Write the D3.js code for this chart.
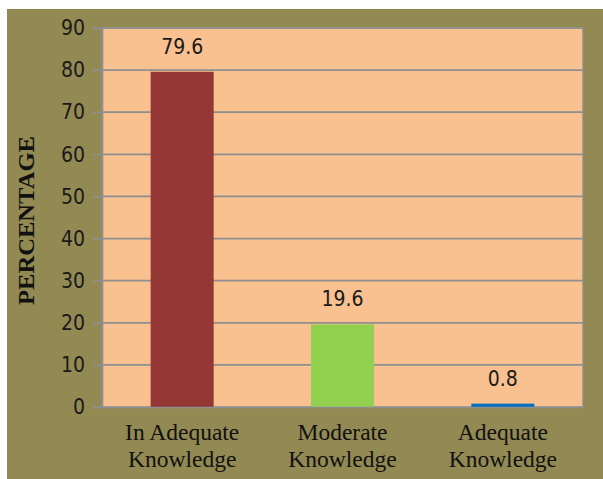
<!DOCTYPE html>
<html>
<head>
<meta charset="utf-8">
<script src="https://cdn.jsdelivr.net/npm/d3@7"></script>
<style>
  html, body { margin: 0; padding: 0; background: #ffffff; }
  svg { display: block; }
</style>
</head>
<body>
<div id="chart"></div>
<script>
const categories = [["In Adequate", "Knowledge"], ["Moderate", "Knowledge"], ["Adequate", "Knowledge"]];
const values = [79.6, 19.6, 0.8];
const valueLabels = ["79.6", "19.6", "0.8"];
const barColors = ["#953735", "#92d050", "#0070c0"];
const yTicks = [0, 10, 20, 30, 40, 50, 60, 70, 80, 90];
const yTitle = "PERCENTAGE";

const W = 603, H = 479;
const plot = { left: 102, right: 583, top: 28, bottom: 407 };
const sansFont = "'DejaVu Sans Condensed', 'DejaVu Sans', sans-serif";

const svg = d3.select("#chart").append("svg").attr("width", W).attr("height", H);

svg.append("rect").attr("x", 7).attr("y", 9).attr("width", W - 7).attr("height", H - 9).attr("fill", "#938953");

svg.append("rect").attr("x", plot.left).attr("y", plot.top)
  .attr("width", plot.right - plot.left).attr("height", plot.bottom - plot.top)
  .attr("fill", "#f9c090").attr("stroke", "#8f8f8f").attr("stroke-width", 1.5);

const y = d3.scaleLinear().domain([0, 90]).range([plot.bottom, plot.top]);
const x = d3.scaleBand().domain(d3.range(categories.length)).range([plot.left, plot.right])
  .paddingInner(0.607).paddingOuter(0.3035);

// gridlines
svg.append("g").selectAll("line").data(yTicks.filter(d => d > 0)).join("line")
  .attr("x1", plot.left).attr("x2", plot.right)
  .attr("y1", d => y(d)).attr("y2", d => y(d))
  .attr("stroke", "#8f8f8f").attr("stroke-width", 1.7);

// bars
svg.append("g").selectAll("rect").data(values).join("rect")
  .attr("x", (d, i) => x(i)).attr("width", x.bandwidth())
  .attr("y", d => y(d)).attr("height", d => y(0) - y(d))
  .attr("fill", (d, i) => barColors[i]);

// y axis
const yAxis = d3.axisLeft(y).tickValues(yTicks).tickSize(9).tickPadding(8);
const gy = svg.append("g").attr("transform", `translate(${plot.left},0)`).call(yAxis);
gy.select(".domain").attr("stroke", "#8f8f8f").attr("stroke-width", 1.7);
gy.selectAll(".tick line").attr("stroke", "#8f8f8f").attr("stroke-width", 1.7);
gy.selectAll(".tick text").attr("font-family", sansFont).attr("font-stretch", "condensed")
  .attr("font-size", 21).attr("fill", "#1a1a1a");

// x axis
const xAxis = d3.axisBottom(x).tickSize(0).tickFormat("");
const gx = svg.append("g").attr("transform", `translate(0,${plot.bottom})`).call(xAxis);
gx.select(".domain").attr("stroke", "#8f8f8f").attr("stroke-width", 1.7);
gx.selectAll(".tick").each(function(d) {
  const t = d3.select(this).append("text")
    .attr("text-anchor", "middle")
    .attr("font-family", "'Liberation Serif', 'Times New Roman', serif")
    .attr("font-size", 23.5).attr("fill", "#111111");
  categories[d].forEach((line, k) => {
    t.append("tspan").attr("x", 0).attr("y", 33 + k * 27).text(line);
  });
});

// value labels
svg.append("g").selectAll("text").data(values).join("text")
  .attr("x", (d, i) => x(i) + x.bandwidth() / 2)
  .attr("y", d => y(d) - 18)
  .attr("text-anchor", "middle")
  .attr("font-family", sansFont).attr("font-stretch", "condensed")
  .attr("font-size", 21).attr("fill", "#1a1a1a")
  .text((d, i) => valueLabels[i]);

// y title
svg.append("text")
  .attr("transform", `translate(34,${(plot.top + plot.bottom) / 2 + 3}) rotate(-90)`)
  .attr("text-anchor", "middle")
  .attr("font-family", "'Liberation Serif', 'Times New Roman', serif")
  .attr("font-weight", "bold").attr("font-size", 24).attr("fill", "#111111")
  .attr("textLength", 169).attr("lengthAdjust", "spacingAndGlyphs")
  .text(yTitle);
</script>
</body>
</html>
